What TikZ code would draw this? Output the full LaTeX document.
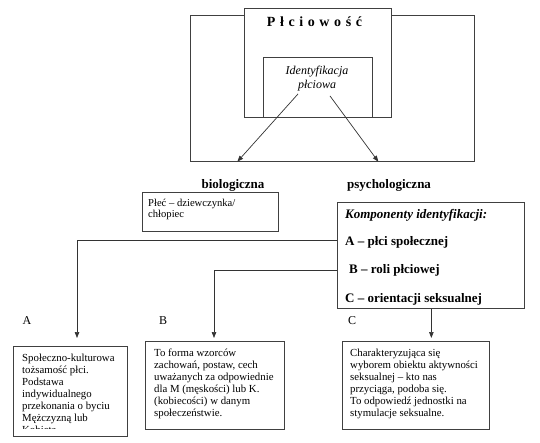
\documentclass[tikz,border=0pt]{standalone}
\usepackage{fontspec}
\setmainfont{Liberation Serif}
\usetikzlibrary{arrows.meta}
\newcommand\lsp{\hspace{4.6pt}}
\begin{document}
\begin{tikzpicture}[x=1pt,y=-1pt,
  box/.style={draw=black!75, line width=0.7pt, inner sep=0pt, anchor=north west, fill=white},
  txt/.style={inner sep=0pt, font={\fontsize{10.8}{12}\selectfont}, align=left, anchor=north west},
  head/.style={inner sep=0pt, font={\fontsize{13}{15}\selectfont\bfseries}},
  comp/.style={inner sep=0pt, anchor=base west, font={\fontsize{13}{15}\selectfont\bfseries}},
  lbl/.style={inner sep=0pt, anchor=base, font={\fontsize{12}{14}\selectfont}},
  conn/.style={draw=black!80, line width=0.7pt},
  arr/.style={conn, -{Triangle[width=4.5pt,length=6pt]}}]
\path[fill=white] (0,0) rectangle (540,443);
\useasboundingbox (0,0) rectangle (540,443);
% top part
\node[box, fill=none, minimum width=284pt, minimum height=146pt] (outer) at (190,15) {};
\node[box, minimum width=147pt, minimum height=109pt] (plc) at (244,8) {};
\node[box, minimum width=109pt, minimum height=60pt] (ident) at (263,57) {};
\node[inner sep=0pt, anchor=base, font={\fontsize{14}{16}\selectfont\bfseries}] (plctxt) at (314.5,27)
  {P\lsp ł\lsp c\lsp i\lsp o\lsp w\lsp o\lsp ś\lsp ć};
\node[inner sep=0pt, anchor=north, align=center, font={\fontsize{12}{14}\selectfont\itshape}] (idtxt) at (317,64.2)
  {\strut Identyfikacja\\płciowa};
\draw[arr] ([shift={(-19pt,-3pt)}]idtxt.south) -- ([xshift=-95pt]outer.south);
\draw[arr] ([shift={(13pt,-5pt)}]idtxt.south) -- ([xshift=46pt]outer.south);
% middle
\node[head, anchor=base] (biot) at (233,189) {biologiczna};
\node[head, anchor=base west] (psyt) at (347,189) {psychologiczna};
\node[box, minimum width=136pt, minimum height=39pt] (bio) at (142,192) {};
\node[txt, font={\fontsize{10.6}{11}\selectfont}] (biotxt) at (148,198.3) {\strut Płeć – dziewczynka/\\chłopiec};
\node[box, minimum width=187pt, minimum height=106pt] (psych) at (337,202) {};
\node[comp, font={\fontsize{13}{15}\selectfont\bfseries\itshape}] (komp) at (345,219) {Komponenty identyfikacji:};
\node[comp] (ca) at (345,246) {A – płci społecznej};
\node[comp] (cb) at (349,273) {B – roli płciowej};
\node[comp] (cc) at (345,302) {C – orientacji seksualnej};
% labels
\node[lbl] (la) at (27,324) {A};
\node[lbl] (lb) at (163,324) {B};
\node[lbl] (lc) at (352,324) {C};
% bottom boxes
\node[box, minimum width=114pt, minimum height=90pt] (boxA) at (13,346) {};
\node[box, minimum width=139pt, minimum height=88pt] (boxB) at (145,341) {};
\node[box, minimum width=147pt, minimum height=88pt] (boxC) at (342,341) {};
\begin{scope}
\clip (13,346) rectangle (127,428.5);
\node[txt] (txA) at (22,352.6) {\strut Społeczno-kulturowa\\tożsamość płci.\\Podstawa\\indywidualnego\\przekonania o byciu\\Mężczyzną lub\\Kobietą};
\end{scope}
\node[txt] (txB) at (154,347.6) {\strut To forma wzorców\\zachowań, postaw, cech\\uważanych za odpowiednie\\dla M (męskości) lub K.\\(kobiecości) w danym\\społeczeństwie.};
\node[txt] (txC) at (350,347.6) {\strut Charakteryzująca się\\wyborem obiektu aktywności\\seksualnej – kto nas\\przyciąga, podoba się.\\To odpowiedź jednostki na\\stymulacje seksualne.};
% connectors
\draw[arr] ([yshift=-38pt]psych.north west) -| ([shift={(64pt,8pt)}]boxA.north west);
\draw[arr] ([yshift=-68pt]psych.north west) -| ([shift={(69pt,3pt)}]boxB.north west);
\draw[arr] ([xshift=0.5pt]psych.south) -- ([shift={(15.5pt,3pt)}]boxC.north);
\end{tikzpicture}
\end{document}
